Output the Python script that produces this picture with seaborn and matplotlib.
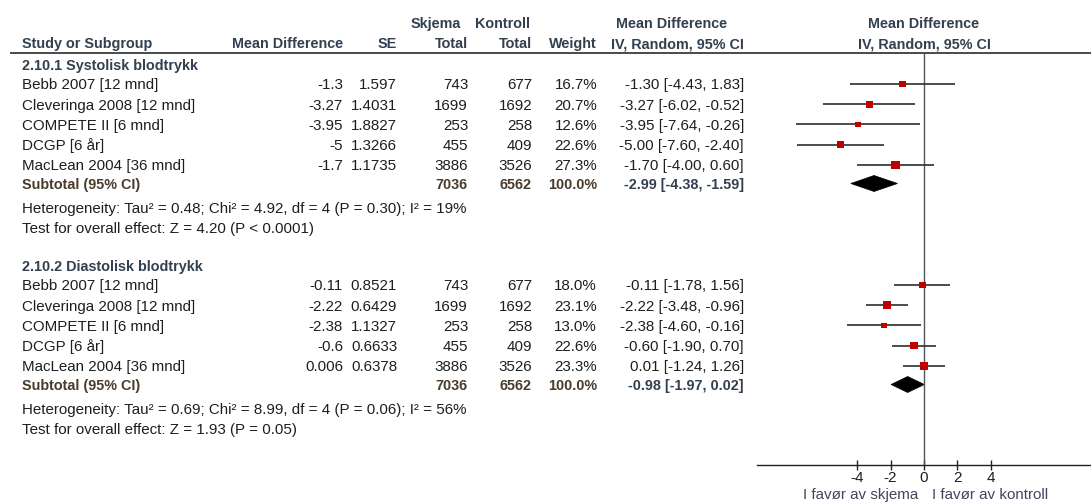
import numpy as np
import pandas as pd
import matplotlib
matplotlib.use("Agg")
import matplotlib.pyplot as plt
import seaborn as sns
from matplotlib.patches import Polygon

# ---- data ----
studies = ["Bebb 2007 [12 mnd]", "Cleveringa 2008 [12 mnd]", "COMPETE II [6 mnd]",
           "DCGP [6 år]", "MacLean 2004 [36 mnd]"]
group_titles = ["2.10.1 Systolisk blodtrykk", "2.10.2 Diastolisk blodtrykk"]

n_skjema = [743, 1699, 253, 455, 3886]
n_kontroll = [677, 1692, 258, 409, 3526]

sys_md = [-1.3, -3.27, -3.95, -5, -1.7]
sys_se = [1.597, 1.4031, 1.8827, 1.3266, 1.1735]
sys_lo = [-4.43, -6.02, -7.64, -7.60, -4.00]
sys_hi = [1.83, -0.52, -0.26, -2.40, 0.60]
sys_weight = [16.7, 20.7, 12.6, 22.6, 27.3]
sys_pooled = [-2.99, -4.38, -1.59]

dia_md = [-0.11, -2.22, -2.38, -0.6, 0.006]
dia_se = [0.8521, 0.6429, 1.1327, 0.6633, 0.6378]
dia_lo = [-1.78, -3.48, -4.60, -1.90, -1.24]
dia_hi = [1.56, -0.96, -0.16, 0.70, 1.26]
dia_weight = [18.0, 23.1, 13.0, 22.6, 23.3]
dia_pooled = [-0.98, -1.97, 0.02]

subtotal_weight = [100.0, 100.0]

heterogeneity = ["Heterogeneity: Tau² = 0.48; Chi² = 4.92, df = 4 (P = 0.30); I² = 19%",
                 "Heterogeneity: Tau² = 0.69; Chi² = 8.99, df = 4 (P = 0.06); I² = 56%"]
overall_test = ["Test for overall effect: Z = 4.20 (P < 0.0001)",
                "Test for overall effect: Z = 1.93 (P = 0.05)"]

x_ticks = [-4, -2, 0, 2, 4]
favours = ["I favør av skjema", "I favør av kontroll"]

# ---- layout (pixel units, y grows downward) ----
W, H = 1091, 503
GROUP_TOP = [84, 285]
STEP = 20.2
SUB_OFF = 99.5
AXIS_Y = 465
HEADER_LINE_Y = 53
FS_B = 10.4   # bold text
FS_R = 10.9   # regular text


def half_cap(fs):
    return 0.5 * 0.72 * fs * 100 / 72


COL_STUDY = 22
COL_MD = 343
COL_SE = 397
COL_SK = 468
COL_KO = 532
COL_W = 597
COL_CI = 744

TXT = "#1e1e1e"
HEAD = "#33404f"
SUBC = "#4a3c2c"
RED = "#c00000"

sns.set_style("white")
plt.rcParams["font.family"] = ["Liberation Sans", "DejaVu Sans"]

groups = [
    dict(md=sys_md, se=sys_se, lo=sys_lo, hi=sys_hi, w=sys_weight, pooled=sys_pooled),
    dict(md=dia_md, se=dia_se, lo=dia_lo, hi=dia_hi, w=dia_weight, pooled=dia_pooled),
]

rows = []
for g, d in enumerate(groups):
    for i, name in enumerate(studies):
        rows.append(dict(group=g, study=name, y=GROUP_TOP[g] + i * STEP,
                         md=d["md"][i], se=d["se"][i], lo=d["lo"][i], hi=d["hi"][i],
                         weight=d["w"][i], n1=n_skjema[i], n2=n_kontroll[i]))
df = pd.DataFrame(rows)
df["area"] = (1.6 * np.sqrt(df["weight"]) * 0.72) ** 2

fig = plt.figure(figsize=(W / 100, H / 100), dpi=100)
ax_t = fig.add_axes([0, 0, 1, 1])
ax_t.set_xlim(0, W)
ax_t.set_ylim(H, 0)
ax_t.axis("off")

ax_f = fig.add_axes([757 / W, 0, (W - 757) / W, 1])
ax_f.set_xlim(-10, 10)
ax_f.set_ylim(H, 0)
ax_f.patch.set_alpha(0)


def put(x, y, s, ha="right", bold=False, color=TXT):
    fs = FS_B if bold else FS_R
    ax_t.text(x, y + half_cap(fs), s, ha=ha, va="baseline", fontsize=fs,
              fontweight="bold" if bold else "normal", color=color)


# column headers
put(436, 23, "Skjema", ha="center", bold=True, color=HEAD)
put(502, 23, "Kontroll", ha="center", bold=True, color=HEAD)
put(672, 23, "Mean Difference", ha="center", bold=True, color=HEAD)
put(COL_STUDY, 43, "Study or Subgroup", ha="left", bold=True, color=HEAD)
put(COL_MD, 43, "Mean Difference", bold=True, color=HEAD)
put(COL_SE, 43, "SE", bold=True, color=HEAD)
put(COL_SK, 43, "Total", bold=True, color=HEAD)
put(COL_KO, 43, "Total", bold=True, color=HEAD)
put(COL_W, 43, "Weight", bold=True, color=HEAD)
put(COL_CI, 43, "IV, Random, 95% CI", bold=True, color=HEAD)
put(924, 23, "Mean Difference", ha="center", bold=True, color=HEAD)
put(924, 43, "IV, Random, 95% CI", ha="center", bold=True, color=HEAD)
ax_t.hlines(HEADER_LINE_Y, 10, W, color="#3c3c3c", lw=1.3)

# study rows and subtotals
for g, d in enumerate(groups):
    top = GROUP_TOP[g]
    put(COL_STUDY, top - 19.5, group_titles[g], ha="left", bold=True, color=HEAD)
    sub = df[df["group"] == g]
    for _, r in sub.iterrows():
        put(COL_STUDY, r.y, r.study, ha="left")
        put(COL_MD, r.y, f"{r.md:g}")
        put(COL_SE, r.y, f"{r.se:g}")
        put(COL_SK, r.y, f"{r.n1}")
        put(COL_KO, r.y, f"{r.n2}")
        put(COL_W, r.y, f"{r.weight:.1f}%")
        put(COL_CI, r.y, f"{r.md:.2f} [{r.lo:.2f}, {r.hi:.2f}]")
    ys = top + SUB_OFF
    est, lo, hi = d["pooled"]
    put(COL_STUDY, ys, "Subtotal (95% CI)", ha="left", bold=True, color=SUBC)
    put(COL_SK, ys, f"{sub['n1'].sum()}", bold=True, color=SUBC)
    put(COL_KO, ys, f"{sub['n2'].sum()}", bold=True, color=SUBC)
    put(COL_W, ys, f"{subtotal_weight[g]:.1f}%", bold=True, color=SUBC)
    put(COL_CI, ys, f"{est:.2f} [{lo:.2f}, {hi:.2f}]", bold=True, color=HEAD)
    put(COL_STUDY, top + 123.5, heterogeneity[g], ha="left")
    put(COL_STUDY, top + 143.5, overall_test[g], ha="left")

    # pooled diamond
    ax_f.add_patch(Polygon([(lo, ys), (est, ys - 8), (hi, ys), (est, ys + 8)],
                           closed=True, facecolor="black", edgecolor="black", lw=0.5))

# confidence intervals and study squares
ax_f.hlines(df["y"], df["lo"], df["hi"], color="#2e2e2e", lw=1.2, zorder=2)
sns.scatterplot(data=df, x="md", y="y", s=df["area"], marker="s", color=RED,
                linewidth=0, legend=False, ax=ax_f, zorder=3)
ax_f.vlines(0, HEADER_LINE_Y, AXIS_Y, color="#555555", lw=1.0, zorder=1)

# bottom axis
for side in ["top", "left", "right"]:
    ax_f.spines[side].set_visible(False)
ax_f.spines["bottom"].set_position(("data", AXIS_Y))
ax_f.spines["bottom"].set_color("#222222")
ax_f.spines["bottom"].set_linewidth(1.0)
ax_f.set_xticks(x_ticks)
ax_f.set_xticklabels([str(t) for t in x_ticks])
ax_f.tick_params(axis="x", direction="inout", length=7, width=1.0, color="#222222",
                 labelsize=11, labelcolor=TXT, pad=0.5, bottom=True)
ax_f.set_yticks([])
ax_f.set_xlabel("")
ax_f.set_ylabel("")
ax_f.text(-0.35, 494 + half_cap(FS_R), favours[0], ha="right", va="baseline",
          fontsize=FS_R, color="#44445e")
ax_f.text(0.45, 494 + half_cap(FS_R), favours[1], ha="left", va="baseline",
          fontsize=FS_R, color="#44445e")

fig.savefig("out.png", dpi=100)
